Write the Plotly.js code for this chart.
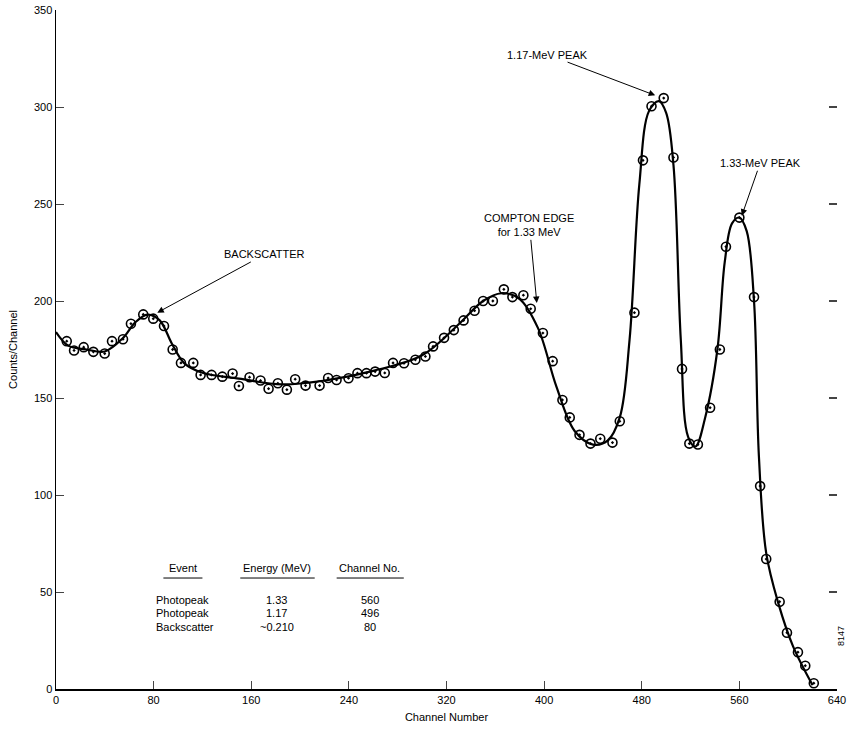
<!DOCTYPE html>
<html><head><meta charset="utf-8">
<script src="https://cdn.plot.ly/plotly-3.0.1.min.js"></script>
<style>body{margin:0;background:#fff}#c{width:860px;height:734px}</style>
</head><body><div id="c"></div>
<script>
// measured points
const chanX = [8.8,14.8,22.7,30.6,39.9,45.9,54.9,61.4,71.5,79.7,88.5,95.6,102.4,112.5,118.5,127.5,136.3,144.7,149.9,158.6,167.6,174.2,181.8,189.2,196,204.5,216,223,229.9,239.7,247,254.4,261.5,269.4,276.2,285.2,294.5,302.7,309,318,326,334,343,350,358,367,374,383,389,399,407,415,421,429,438,446,456,462,474,481,488,498,506,513,519,526,536,544,549,560,572,577,582,593,599,608,614,621];
const counts = [179.3,174.5,176.2,173.8,172.9,179.3,180.3,188.3,193.1,190.9,187.1,175,168.1,168.1,161.9,161.9,161,162.6,156.2,160.7,159,154.8,157.6,154.3,159.7,156.4,156.4,160.3,159.3,160.2,162.8,162.8,163.6,162.9,168.1,167.9,169.7,171.4,176.6,181,185,190,195,200,200,206,202,203,196,183.5,169,149,140,131,126.5,129,127,138,194,272.5,300.4,304.6,274,165,126.5,126,145,175,228,243,202,104.6,67,45,29,19,12,3];
// smooth curve drawn through the data
const curveX = [0,10,25,40,55,65,75,85,95,105,120,150,185,220,260,300,330,350,365,380,395,410,425,440,452,462,470,478,486,494,500,506,512,518,524,532,542,548,554,560,566,572,576,582,592,604,620];
const curveY = [184,177,175,174,181,189,193,190,178,168,163,160,157,159,164,172,188,200,204,201,186,156,133,126,128,140,180,260,298,303,297,270,180,130,125,140,175,220,240,243,236,200,120,70,44,22,2];
const xTicks = [0,80,160,240,320,400,480,560,640];
const yTicks = [0,50,100,150,200,250,300,350];
const tblEvent = ["Photopeak","Photopeak","Backscatter"];
const tblEnergy = ["1.33","1.17","~0.210"];
const tblChannel = ["560","496","80"];
const rowY = [45.9,39.2,32];

const f = {family:"Liberation Sans, Arial, sans-serif", size:11, color:"#000"};
const ann = [];
tblEvent.forEach((t,i)=>{
  ann.push({x:80,y:rowY[i],text:t,showarrow:false,xanchor:'left',font:f});
  ann.push({x:181,y:rowY[i],text:tblEnergy[i],showarrow:false,font:f});
  ann.push({x:257,y:rowY[i],text:tblChannel[i],showarrow:false,font:f});
});
ann.push({x:104,y:62.4,text:"Event",showarrow:false,font:f});
ann.push({x:181,y:62.4,text:"Energy (MeV)",showarrow:false,font:f});
ann.push({x:257,y:62.4,text:"Channel No.",showarrow:false,font:f});
const arr = (text,tx,ty,x,y)=>({text,x,y,ax:tx,ay:ty,axref:'x',ayref:'y',showarrow:true,arrowhead:2,arrowsize:1.3,arrowwidth:1,arrowcolor:'#000',font:f});
ann.push(arr("BACKSCATTER",171,224,83,194));
ann.push(arr("1.17-MeV PEAK",403,327,491,306));
ann.push(arr("1.33-MeV PEAK",577,271,562,244));
ann.push(arr("COMPTON EDGE<br>for 1.33 MeV",388,239,394,199));
ann.push({xref:'paper',yref:'paper',x:1.015,y:0.06,text:"8147",textangle:-90,showarrow:false,font:{family:f.family,size:9,color:'#000'}});

const ul = (a,b)=>({type:'line',x0:a,x1:b,y0:57.2,y1:57.2,line:{color:'#000',width:1}});

Plotly.newPlot('c',[
  {x:curveX,y:curveY,mode:'lines',line:{shape:'spline',smoothing:1,color:'#000',width:2.2},hoverinfo:'skip'},
  {x:chanX,y:counts,mode:'markers',marker:{symbol:'circle-open-dot',size:9,color:'#000',line:{width:1.6,color:'#000'}}},
  {x:[0],y:[0],yaxis:'y2',mode:'markers',marker:{opacity:0},hoverinfo:'skip'}
],{
  width:860,height:734,showlegend:false,
  margin:{l:56,r:23,t:10,b:45},
  paper_bgcolor:'#fff',plot_bgcolor:'#fff',font:f,
  xaxis:{range:[0,640],tickvals:xTicks,ticks:'inside',ticklen:8,showline:true,linecolor:'#000',linewidth:1.5,showgrid:false,zeroline:false,
    title:{text:"Channel Number",font:f,standoff:8}},
  yaxis:{range:[0,350],tickvals:yTicks,ticks:'inside',ticklen:8,showline:true,linecolor:'#000',linewidth:1.5,showgrid:false,zeroline:false,
    title:{text:"Counts/Channel",font:f,standoff:14}},
  yaxis2:{overlaying:'y',side:'right',range:[0,350],tickvals:yTicks,ticks:'inside',ticklen:8,tickwidth:1.3,showticklabels:false,showline:false,showgrid:false,zeroline:false},
  annotations:ann,
  shapes:[ul(88,120),ul(151,212),ul(230,285)]
},{displayModeBar:false,staticPlot:true});
</script></body></html>
